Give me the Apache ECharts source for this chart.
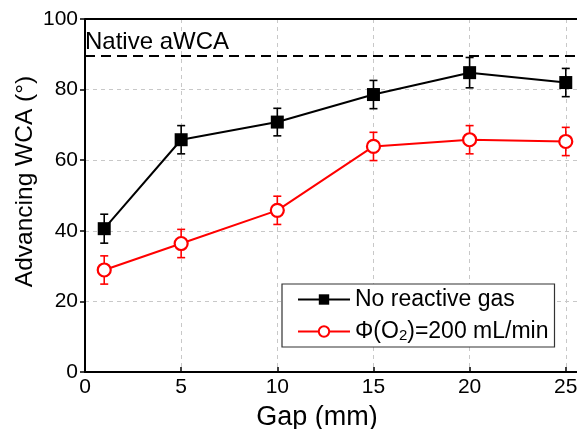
<!DOCTYPE html>
<html><head><meta charset="utf-8">
<script src="https://cdn.jsdelivr.net/npm/echarts@6/dist/echarts.min.js"></script>
<style>html,body{margin:0;padding:0;background:#fff}#c{width:577px;height:429px}</style>
</head><body><div id="c"></div>
<script>
const gaps = [1, 5, 10, 15, 20, 25];
const noGas = [40.6, 65.8, 70.8, 78.6, 84.8, 82.0];
const noGasErr = [4.1, 4.0, 3.9, 4.0, 4.3, 4.0];
const o2 = [28.9, 36.4, 45.8, 63.9, 65.8, 65.3];
const o2Err = [4.0, 4.0, 4.0, 4.0, 4.0, 4.0];
const nativeWCA = 89.5;
const xTicks = [0, 5, 10, 15, 20, 25];
const yTicks = [0, 20, 40, 60, 80, 100];

const FONT = 'Liberation Sans';
function errData(ys, es){ return gaps.map((g,i)=>[g, ys[i]-es[i], ys[i]+es[i]]); }
function errSeries(ys, es, color){
  return {
    type:'custom', silent:true, z:3,
    data: errData(ys, es),
    renderItem: function(params, api){
      const x = api.value(0);
      const lo = api.coord([x, api.value(1)]);
      const hi = api.coord([x, api.value(2)]);
      const w = 4;
      const st = {stroke: color, lineWidth: 1.6};
      return {type:'group', children:[
        {type:'line', shape:{x1:lo[0],y1:lo[1],x2:hi[0],y2:hi[1]}, style:st},
        {type:'line', shape:{x1:lo[0]-w,y1:lo[1],x2:lo[0]+w,y2:lo[1]}, style:st},
        {type:'line', shape:{x1:hi[0]-w,y1:hi[1],x2:hi[0]+w,y2:hi[1]}, style:st}
      ]};
    }
  };
}
const chart = echarts.init(document.getElementById('c'));
chart.setOption({
  animation:false,
  textStyle:{fontFamily:FONT},
  grid:{left:85, right:-8, top:19, bottom:57, show:false, containLabel:false, outerBoundsMode:'none'},
  legend:{
    data:['No reactive gas','O2'],
    orient:'vertical', left:282, top:284,
    padding:[4,6,4,15], itemGap:9, itemWidth:52, itemHeight:13,
    borderColor:'#333', borderWidth:1.2, backgroundColor:'#fff',
    textStyle:{fontFamily:FONT, fontSize:23, color:'#000',
      rich:{sub:{fontFamily:FONT, fontSize:15, color:'#000', verticalAlign:'bottom', padding:[6,0,0,0]}, n:{fontFamily:FONT, fontSize:23, color:'#000'}}},
    formatter: function(n){ return n==='O2' ? '{n|Φ(O}{sub|2}{n|)=200 mL/min}' : n; }
  },
  xAxis:{
    type:'value', min:0, max:26, interval:5,
    name:'Gap (mm)', nameLocation:'middle', nameGap:32, nameMoveOverlap:false,
    nameTextStyle:{fontFamily:FONT, fontSize:27, color:'#000', padding:[0,36,0,0]},
    axisLine:{lineStyle:{color:'#000', width:2}},
    axisTick:{inside:true, length:5, lineStyle:{color:'#000', width:1.5}},
    axisLabel:{fontFamily:FONT, fontSize:21, color:'#000', margin:5, showMaxLabel:false,
      formatter:v=> xTicks.includes(v)? String(v):''},
    splitLine:{show:true, lineStyle:{color:'#c8c8c8', type:[4,4], width:1}}
  },
  yAxis:{
    type:'value', min:0, max:100, interval:20,
    name:'Advancing WCA (°)', nameLocation:'middle', nameGap:47, nameMoveOverlap:false,
    nameTextStyle:{fontFamily:FONT, fontSize:24.5, color:'#000', padding:[0,0,0,28]},
    axisLine:{show:true, lineStyle:{color:'#000', width:2}},
    axisTick:{show:true, inside:false, length:5, lineStyle:{color:'#000', width:1.5}},
    axisLabel:{fontFamily:FONT, fontSize:21, color:'#000', margin:7,
      formatter:v=> yTicks.includes(v)? String(v):''},
    splitLine:{show:true, lineStyle:{color:'#c8c8c8', type:[4,4], width:1}}
  },
  series:[
    errSeries(noGas, noGasErr, '#000'),
    errSeries(o2, o2Err, '#ff0000'),
    {
      name:'No reactive gas', type:'line', z:5,
      data:gaps.map((g,i)=>[g,noGas[i]]),
      symbol:'rect', symbolSize:13,
      itemStyle:{color:'#000'},
      lineStyle:{color:'#000', width:2},
      markLine:{
        silent:true, symbol:'none',
        lineStyle:{color:'#000', type:[10,6], width:2},
        label:{show:true, position:'insideStartTop', formatter:'Native aWCA',
          fontFamily:FONT, fontSize:24, color:'#000', distance:[0,2]},
        data:[{yAxis:nativeWCA}]
      }
    },
    {
      name:'O2', type:'line', z:5,
      data:gaps.map((g,i)=>[g,o2[i]]),
      symbol:'circle', symbolSize:13,
      itemStyle:{color:'#fff', borderColor:'#ff0000', borderWidth:2.2},
      lineStyle:{color:'#ff0000', width:2}
    },
    {
      type:'line', silent:true, symbol:'none', z:4,
      data:[[0,100],[26,100]],
      lineStyle:{color:'#000', width:2}
    }
  ]
});
</script></body></html>
